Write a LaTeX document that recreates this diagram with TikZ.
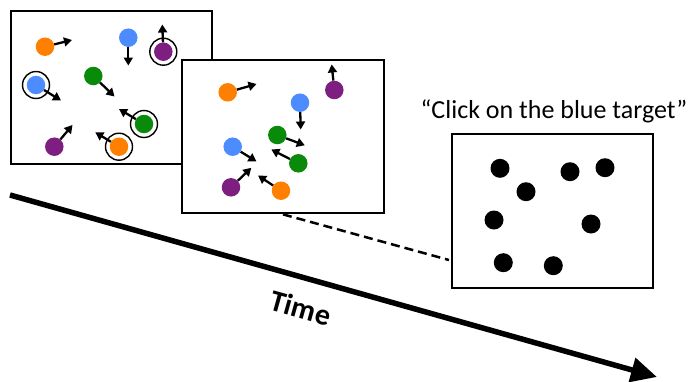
\documentclass[tikz,border=0pt]{standalone}
\usepackage{fontspec}
\setmainfont{Carlito}
\usetikzlibrary{arrows.meta}
\definecolor{dorange}{RGB}{255,128,0}
\definecolor{dblue}{RGB}{77,140,255}
\definecolor{dgreen}{RGB}{10,138,10}
\definecolor{dpurple}{RGB}{125,30,128}
\tikzset{
  frame/.style={draw=black, line width=2.7pt, fill=white, rectangle, inner sep=0pt},
  dot/.style={circle, inner sep=0pt, minimum size=18.5pt, draw=none},
  ring/.style={circle, inner sep=0pt, minimum size=27pt, draw=black, line width=1.4pt},
  mv/.style={line width=2.3pt, -{Triangle[length=8pt,width=9pt]}},
  bdot/.style={circle, fill=black, inner sep=0pt, minimum size=19pt},
}
\begin{document}
\begin{tikzpicture}[x=1pt,y=-1pt]
\useasboundingbox (0,0) rectangle (694,381);
% time arrow
\coordinate (t0) at (10,195);
\coordinate (t1) at (657,377);
\draw[line width=5.5pt, -{Triangle[length=26pt,width=24pt]}] (t0) -- (t1);
\node[rotate=-15.6, font=\bfseries\fontsize{30}{34}\selectfont] (time) at (301,308) {Time};

% frame 1
\node[frame, minimum width=201pt, minimum height=153pt] (f1) at (111.5,87.5) {};
\node[ring] (r1) at (163.3,51.7) {};
\node[ring] (r2) at (36,85) {};
\node[ring] (r3) at (144,124) {};
\node[ring] (r4) at (119,146.7) {};
\node[dot, fill=dorange] (a1) at (45,46.7) {};
\node[dot, fill=dblue] (a2) at (128.3,37.7) {};
\node[dot, fill=dpurple] (a3) at (163.3,51.7) {};
\node[dot, fill=dblue] (a4) at (36,85) {};
\node[dot, fill=dgreen] (a5) at (93.3,76) {};
\node[dot, fill=dgreen] (a6) at (144,124) {};
\node[dot, fill=dpurple] (a7) at (54.3,146.7) {};
\node[dot, fill=dorange] (a8) at (119,146.7) {};
\coordinate (ae1) at (72,40);
\coordinate (ae2) at (128.3,65.5);
\coordinate (ae3) at (162.3,24.5);
\coordinate (ae4) at (61,100.5);
\coordinate (ae5) at (114.5,96.5);
\coordinate (ae6) at (119,109);
\coordinate (ae7) at (72.5,125);
\coordinate (ae8) at (95.3,132.3);
\draw[mv] (a1) -- (ae1);
\draw[mv] (a2) -- (ae2);
\draw[mv] (a3) -- (ae3);
\draw[mv] (a4) -- (ae4);
\draw[mv] (a5) -- (ae5);
\draw[mv] (a6) -- (ae6);
\draw[mv] (a7) -- (ae7);
\draw[mv] (a8) -- (ae8);

% frame 2
\node[frame, minimum width=202pt, minimum height=153pt] (f2) at (283,136.5) {};
\node[dot, fill=dorange] (b1) at (227.7,92.3) {};
\node[dot, fill=dpurple] (b2) at (334.3,90) {};
\node[dot, fill=dblue] (b3) at (300,102.7) {};
\node[dot, fill=dgreen] (b4) at (277.3,135) {};
\node[dot, fill=dblue] (b5) at (232.7,146.7) {};
\node[dot, fill=dgreen] (b6) at (298.3,163.3) {};
\node[dot, fill=dpurple] (b7) at (231,187.3) {};
\node[dot, fill=dorange] (b8) at (281,190.7) {};
\coordinate (be1) at (256.5,84);
\coordinate (be2) at (331.7,64.5);
\coordinate (be3) at (300.7,129.5);
\coordinate (be4) at (304.8,145.3);
\coordinate (be5) at (256.5,161.5);
\coordinate (be6) at (271.3,149.5);
\coordinate (be7) at (251.3,167.8);
\coordinate (be8) at (258,175.5);
\draw[mv] (b1) -- (be1);
\draw[mv] (b2) -- (be2);
\draw[mv] (b3) -- (be3);
\draw[mv] (b4) -- (be4);
\draw[mv] (b5) -- (be5);
\draw[mv] (b6) -- (be6);
\draw[mv] (b7) -- (be7);
\draw[mv] (b8) -- (be8);

% frame 3
\node[frame, minimum width=201pt, minimum height=154pt] (f3) at (552.5,211) {};
\node[bdot] (c1) at (500,168.3) {};
\node[bdot] (c2) at (570,171.7) {};
\node[bdot] (c3) at (605,167.7) {};
\node[bdot] (c4) at (526,191.7) {};
\node[bdot] (c5) at (494,220) {};
\node[bdot] (c6) at (591,224) {};
\node[bdot] (c7) at (503.3,262.7) {};
\node[bdot] (c8) at (553.3,265.7) {};
\node[font=\fontsize{26}{30}\selectfont] (lbl) at (554,111) {“Click on the blue target”};

% dashed connector
\coordinate (d2) at (449,260);
\draw[line width=2.5pt, dash pattern=on 9pt off 5pt] (f2.south) -- (d2);
\end{tikzpicture}
\end{document}
